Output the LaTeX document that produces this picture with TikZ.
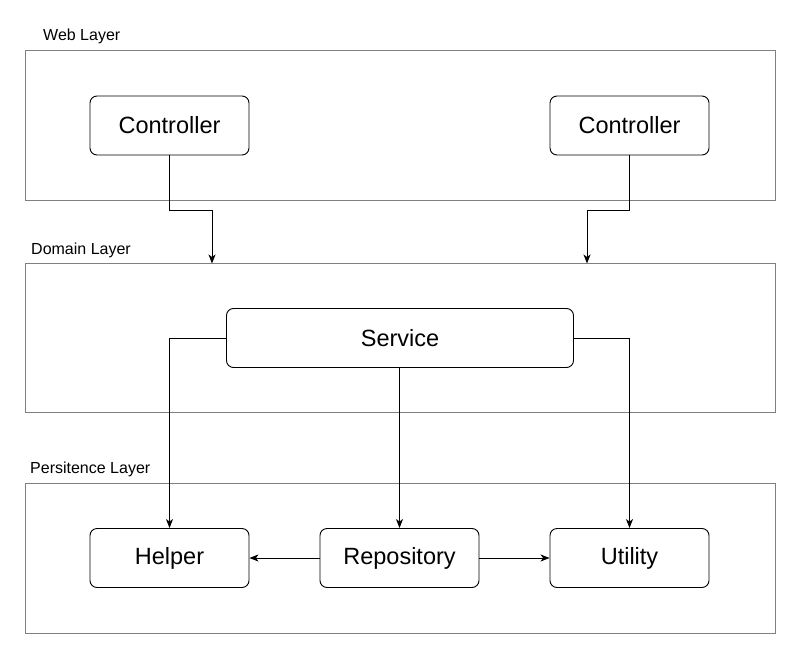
\documentclass[tikz,border=0pt]{standalone}
\usepackage{fontspec}
\setmainfont{Liberation Sans}
\usetikzlibrary{arrows.meta}
\definecolor{layergray}{HTML}{808080}
\begin{document}
\begin{tikzpicture}[x=1pt,y=-1pt,
  layer/.style={draw=layergray,line width=0.9pt},
  comp/.style={draw=black,line width=0.9pt,rounded corners=7pt,fill=white,minimum width=159pt,minimum height=59pt,inner sep=0pt,font=\fontsize{23.5}{27}\selectfont},
  lbl/.style={anchor=west,inner sep=0pt,font=\fontsize{16}{19}\selectfont},
  conn/.style={draw=black,line width=0.9pt,-{Stealth[length=9pt,width=7pt,inset=2.5pt]}}]
\useasboundingbox (0,0) rectangle (800,658);
% layers
\node[layer,minimum width=750pt,minimum height=150pt,inner sep=0pt] (web) at (400,125) {};
\node[layer,minimum width=750pt,minimum height=149pt,inner sep=0pt] (dom) at (400,338) {};
\node[layer,minimum width=750pt,minimum height=150pt,inner sep=0pt] (per) at (400,558) {};
\node[lbl] (weblbl) at (43,36.5) {Web Layer};
\node[lbl] (domlbl) at (31,250.5) {Domain Layer};
\node[lbl] (perlbl) at (30,469.5) {Persitence Layer};
% components
\node[comp] (c1) at (169.5,125.5) {Controller};
\node[comp] (c2) at (629.5,125.5) {Controller};
\node[comp,minimum width=347pt,minimum height=59pt] (svc) at (400,338) {Service};
\node[comp] (help) at (169.5,558) {Helper};
\node[comp] (repo) at (399.5,558) {Repository};
\node[comp] (util) at (629.5,558) {Utility};
% coordinates
\coordinate (d1) at (212,263.5);
\coordinate (d2) at (587,263.5);
% connectors
\draw[conn] (c1.south) -- (c1.south |- 0,210) -- (212,210) -- (d1);
\draw[conn] (c2.south) -- (c2.south |- 0,210) -- (587,210) -- (d2);
\draw[conn] (svc.west) -- (help.north |- svc.west) -- (help.north);
\draw[conn] (svc.south -| repo.north) -- (repo.north);
\draw[conn] (svc.east) -- (util.north |- svc.east) -- (util.north);
\draw[conn] (repo.west) -- (help.east);
\draw[conn] (repo.east) -- (util.west);
\end{tikzpicture}
\end{document}
